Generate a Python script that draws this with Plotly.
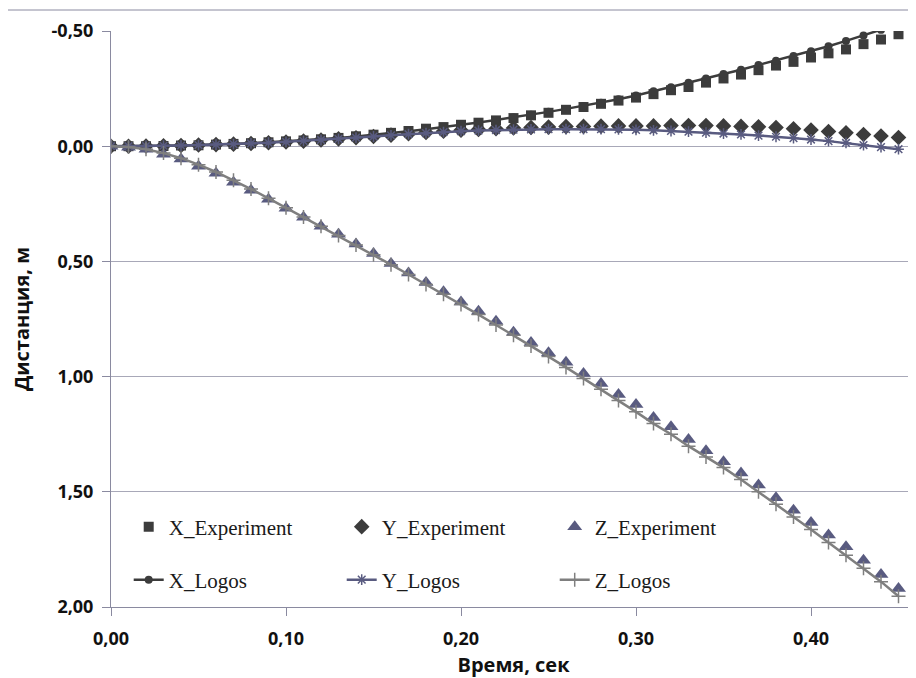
import plotly.graph_objects as go

# ---------------- data ----------------
time_s = [round(i * 0.01, 2) for i in range(46)]

x_experiment = [0.000, 0.000, 0.000, -0.001, -0.003, -0.004, -0.007, -0.010, -0.013, -0.017,
                -0.021, -0.025, -0.030, -0.036, -0.043, -0.050, -0.058, -0.066, -0.076, -0.083,
                -0.093, -0.102, -0.112, -0.122, -0.134, -0.145, -0.158, -0.170, -0.184, -0.198,
                -0.211, -0.226, -0.243, -0.257, -0.276, -0.294, -0.311, -0.330, -0.350, -0.366,
                -0.385, -0.403, -0.420, -0.443, -0.463, -0.486]

y_experiment = [0.000, 0.000, -0.001, -0.002, -0.003, -0.005, -0.007, -0.009, -0.012, -0.015,
                -0.018, -0.022, -0.027, -0.032, -0.037, -0.042, -0.048, -0.054, -0.060, -0.065,
                -0.069, -0.073, -0.076, -0.079, -0.081, -0.083, -0.085, -0.086, -0.087, -0.088,
                -0.088, -0.088, -0.090, -0.090, -0.090, -0.088, -0.086, -0.084, -0.081, -0.076,
                -0.070, -0.064, -0.058, -0.051, -0.044, -0.038]

z_experiment = [0.000, 0.005, 0.013, 0.035, 0.056, 0.087, 0.117, 0.156, 0.191, 0.230,
                0.269, 0.308, 0.347, 0.382, 0.425, 0.466, 0.509, 0.550, 0.592, 0.632,
                0.676, 0.716, 0.760, 0.807, 0.852, 0.897, 0.938, 0.987, 1.030, 1.078,
                1.121, 1.178, 1.218, 1.273, 1.322, 1.370, 1.418, 1.471, 1.526, 1.580,
                1.633, 1.688, 1.739, 1.797, 1.859, 1.920]

x_logos = [0.000, 0.000, -0.001, -0.002, -0.003, -0.005, -0.007, -0.010, -0.013, -0.017,
           -0.021, -0.025, -0.030, -0.036, -0.042, -0.049, -0.057, -0.065, -0.074, -0.083,
           -0.093, -0.103, -0.114, -0.125, -0.136, -0.149, -0.162, -0.175, -0.189, -0.204,
           -0.220, -0.238, -0.256, -0.275, -0.294, -0.313, -0.332, -0.352, -0.371, -0.391,
           -0.412, -0.434, -0.457, -0.481, -0.505, -0.530]

y_logos = [0.000, 0.000, -0.001, -0.002, -0.003, -0.005, -0.007, -0.009, -0.012, -0.015,
           -0.019, -0.023, -0.027, -0.032, -0.037, -0.042, -0.047, -0.052, -0.057, -0.061,
           -0.065, -0.068, -0.070, -0.072, -0.073, -0.074, -0.074, -0.074, -0.074, -0.073,
           -0.071, -0.069, -0.066, -0.063, -0.059, -0.055, -0.051, -0.046, -0.041, -0.035,
           -0.029, -0.022, -0.014, -0.005, 0.004, 0.013]

z_logos = [0.000, 0.004, 0.013, 0.030, 0.052, 0.080, 0.112, 0.148, 0.186, 0.226,
           0.267, 0.307, 0.347, 0.388, 0.429, 0.471, 0.514, 0.557, 0.600, 0.643,
           0.687, 0.731, 0.776, 0.821, 0.867, 0.913, 0.960, 1.008, 1.055, 1.104,
           1.153, 1.204, 1.250, 1.302, 1.349, 1.395, 1.447, 1.500, 1.554, 1.609,
           1.664, 1.720, 1.775, 1.832, 1.890, 1.953]

x_tick_vals = [0.0, 0.1, 0.2, 0.3, 0.4]
x_tick_text = ["0,00", "0,10", "0,20", "0,30", "0,40"]
y_tick_vals = [-0.5, 0.0, 0.5, 1.0, 1.5, 2.0]
y_tick_text = ["-0,50", "0,00", "0,50", "1,00", "1,50", "2,00"]

x_title = "Время, сек"
y_title = "Дистанция, м"

# ---------------- styles ----------------
DARK = "#3c3c3c"
SLATE = "#595b80"
GRAY = "#7f7f7f"
AXIS = "#8a8aa0"
LEG_FONT = dict(family="Liberation Serif", size=21, color="#1a1a1a")
TICK_FONT = dict(family="Open Sans", size=18, color="#111111", weight="bold")
TITLE_FONT = dict(family="Open Sans", size=20, color="#111111", weight="bold")

fig = go.Figure()

fig.add_trace(go.Scatter(x=time_s, y=x_experiment, mode="markers", name="X_Experiment",
                         marker=dict(symbol="square", size=10, color=DARK), legend="legend"))
fig.add_trace(go.Scatter(x=time_s, y=y_experiment, mode="markers", name="Y_Experiment",
                         marker=dict(symbol="diamond", size=12, color=DARK), legend="legend"))
fig.add_trace(go.Scatter(x=time_s, y=z_experiment, mode="markers", name="Z_Experiment",
                         marker=dict(symbol="triangle-up", size=13, color=SLATE), legend="legend"))

fig.add_trace(go.Scatter(x=time_s, y=x_logos, mode="lines+markers", name="X_Logos",
                         line=dict(color=DARK, width=2.5),
                         marker=dict(symbol="circle", size=8, color=DARK), legend="legend2"))
fig.add_trace(go.Scatter(x=time_s, y=y_logos, mode="lines+markers", name="Y_Logos",
                         line=dict(color=SLATE, width=2.5),
                         marker=dict(symbol="asterisk", size=9, color=SLATE,
                                     line=dict(color=SLATE, width=1.5)), legend="legend2"))
fig.add_trace(go.Scatter(x=time_s, y=z_logos, mode="lines+markers", name="Z_Logos",
                         line=dict(color=GRAY, width=2.5),
                         marker=dict(symbol="cross-thin", size=10, color=GRAY,
                                     line=dict(color=GRAY, width=1.5)), legend="legend2"))

# The page adds an 8px body margin, so the figure is 8px smaller than the window
FIG_W, FIG_H = 908, 670
TOP, BOTTOM, LEFT, W = 23, 599, 103, 805
H = BOTTOM - TOP
LEG_X = 0.022

fig.update_layout(
    width=FIG_W, height=FIG_H,
    margin=dict(l=LEFT, r=FIG_W - LEFT - W, t=TOP, b=FIG_H - BOTTOM, pad=0, autoexpand=False),
    paper_bgcolor="white", plot_bgcolor="white",
    showlegend=True,
    legend=dict(orientation="h", x=LEG_X, xanchor="left", y=(BOTTOM - 519) / H, yanchor="middle",
                font=LEG_FONT, entrywidth=168, entrywidthmode="pixels",
                bgcolor="rgba(0,0,0,0)", traceorder="normal"),
    legend2=dict(orientation="h", x=LEG_X, xanchor="left", y=(BOTTOM - 572) / H, yanchor="middle",
                 font=LEG_FONT, entrywidth=168, entrywidthmode="pixels",
                 bgcolor="rgba(0,0,0,0)", traceorder="normal"),
    xaxis=dict(range=[0, 0.46], tickvals=x_tick_vals, ticktext=x_tick_text,
               automargin=False, showgrid=False, zeroline=False,
               showline=True, linecolor=AXIS, linewidth=1,
               ticks="outside", ticklen=8, tickcolor=AXIS,
               ticklabelstandoff=7, tickfont=TICK_FONT,
               title=dict(text=x_title, standoff=9, font=TITLE_FONT)),
    yaxis=dict(range=[2.0, -0.5], tickvals=y_tick_vals, ticktext=y_tick_text,
               automargin=False, showgrid=True, gridcolor="#a8a8b8", gridwidth=1, zeroline=False,
               showline=True, linecolor=AXIS, linewidth=1,
               ticks="outside", ticklen=8, tickcolor=AXIS,
               ticklabelstandoff=5, tickfont=TICK_FONT,
               title=dict(text=y_title, standoff=18, font=TITLE_FONT)),
)

# chart-area frame line at the very top
fig.add_shape(type="line", xref="paper", yref="paper",
              x0=-LEFT / W, x1=1.0, y0=(BOTTOM - 2) / H, y1=(BOTTOM - 2) / H,
              line=dict(color=AXIS, width=1))

fig.write_html("out.html")
